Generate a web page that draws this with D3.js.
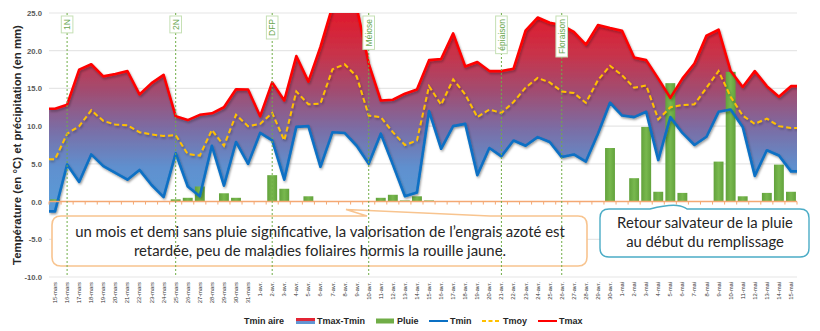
<!DOCTYPE html>
<html><head><meta charset="utf-8">
<script src="https://cdn.jsdelivr.net/npm/d3@7"></script>
<style>
body{margin:0;background:#fff;}
svg{display:block;font-family:"Liberation Sans",Arial,sans-serif;}
</style>
</head><body>
<svg id="c" width="820" height="331"></svg>
<script>
// ---------------- DATA ----------------
const dates = ["15-mars","16-mars","17-mars","18-mars","19-mars","20-mars","21-mars","22-mars","23-mars","24-mars","25-mars","26-mars","27-mars","28-mars","29-mars","30-mars","31-mars",
"1-avr.","2-avr.","3-avr.","4-avr.","5-avr.","6-avr.","7-avr.","8-avr.","9-avr.","10-avr.","11-avr.","12-avr.","13-avr.","14-avr.","15-avr.","16-avr.","17-avr.","18-avr.","19-avr.","20-avr.","21-avr.","22-avr.","23-avr.","24-avr.","25-avr.","26-avr.","27-avr.","28-avr.","29-avr.","30-avr.",
"1-mai","2-mai","3-mai","4-mai","5-mai","6-mai","7-mai","8-mai","9-mai","10-mai","11-mai","12-mai","13-mai","14-mai","15-mai"];
const tmax = [12.3,12.85,17.5,18.2,16.6,16.9,17.3,14.2,15.7,16.8,11.3,10.8,11.5,11.7,12.5,14.9,14.85,
11.3,15.8,13.4,19.3,15.9,20.5,25.9,27.3,25.8,18.3,13.4,13.5,14.3,14.85,18.75,18.9,22.3,17.9,18.5,17.3,17.3,17.6,22.65,24.4,23.7,23.4,22.5,20.8,23.4,23.0,
22.65,19.1,18.75,16.3,13.75,16.3,18.3,22.0,22.8,17.3,15.2,17.3,15.3,13.9,15.3];
const tmin = [-1.3,4.9,2.6,6.25,4.7,3.8,2.9,4.2,2.2,0.6,6.4,2.0,0.7,7.4,2.1,7.9,5.0,
9.1,8.1,2.9,9.9,10.0,4.6,9.2,9.1,7.4,5.0,9.0,4.9,0.7,1.2,12.0,7.0,10.0,10.3,3.5,7.1,6.0,8.1,7.4,8.55,7.9,5.9,6.25,5.3,9.0,13.1,
11.4,11.2,11.9,5.5,11.2,9.1,7.5,8.6,11.9,12.2,9.9,3.4,6.8,6.1,4.0];
const tmoy = [5.6,9.0,10.0,12.1,10.7,10.2,10.1,9.2,8.9,8.7,8.8,6.3,6.1,9.5,7.4,11.5,10.0,
10.3,11.75,8.1,14.6,12.9,13.0,17.55,18.2,16.6,11.4,11.2,9.2,7.5,8.1,15.3,12.85,16.2,14.2,11.2,12.2,11.75,13.2,15.1,16.4,15.8,14.6,14.4,13.1,16.1,18.0,
16.75,15.1,15.4,10.9,12.5,12.8,12.9,15.1,17.3,13.9,11.4,10.3,11.0,10.0,9.75];
const pluie = [0.3,0,0,0,0,0,0,0,0,0,0.3,0.5,2.0,0,1.1,0.5,0,
0,3.5,1.7,0,0.7,0,0,0,0,0,0.5,0.9,0.15,0.7,0.15,0,0,0,0,0,0,0,0,0,0,0,0,0,0,7.1,
0,3.1,9.9,1.3,15.7,1.15,0,0,5.3,17.2,0.7,0,1.15,4.9,1.3];
const yTicks = [25,20,15,10,5,0,-5,-10];
const stageLabels = ["1N","2N","DFP","Méiose","épiaison","Floraison"];
const stageDates = ["16-mars","25-mars","2-avr.","10-avr.","21-avr.","26-avr."];
const legendLabels = ["Tmin aire","Tmax-Tmin","Pluie","Tmin","Tmoy","Tmax"];
const noteLeft = ["un mois et demi sans pluie significative, la valorisation de l’engrais azoté est","retardée, peu de maladies foliaires hormis la rouille jaune."];
const noteRight = ["Retour salvateur de la pluie","au début du remplissage"];
const yTitle = "Température (en °C) et précipitation (en mm)";

// ---------------- LAYOUT ----------------
const L = 49, R = 797, T = 13, B = 277;
const svg = d3.select("#c");
const x = d3.scaleBand().domain(dates).range([L, R]);
const y = d3.scaleLinear().domain([-10, 25]).range([B, T]);
const bw = x.bandwidth();
const cx = d => x(d) + bw / 2;

const defs = svg.append("defs");
const grad = defs.append("linearGradient").attr("id", "areaGrad")
  .attr("gradientUnits", "userSpaceOnUse").attr("x1", 0).attr("x2", 0)
  .attr("y1", y(25)).attr("y2", y(0));
[[0, "#e01a2c"], [0.22, "#c8334a"], [0.42, "#a04d72"], [0.62, "#7a6ea6"], [0.82, "#5f90cf"], [1, "#5a9ad6"]]
  .forEach(s => grad.append("stop").attr("offset", s[0]).attr("stop-color", s[1]));
const lg = defs.append("linearGradient").attr("id", "legGrad").attr("x1", 0).attr("x2", 0).attr("y1", 0).attr("y2", 1);
[[0, "#e8202e"], [0.45, "#d92a3e"], [0.55, "#6a8fd0"], [1, "#5b9bd5"]]
  .forEach(s => lg.append("stop").attr("offset", s[0]).attr("stop-color", s[1]));
const bg = defs.append("linearGradient").attr("id", "barGrad").attr("x1", 0).attr("x2", 1).attr("y1", 0).attr("y2", 0);
[[0, "#62a23c"], [0.5, "#78b84e"], [1, "#62a23c"]]
  .forEach(s => bg.append("stop").attr("offset", s[0]).attr("stop-color", s[1]));
defs.append("clipPath").attr("id", "plotClip").append("rect")
  .attr("x", L).attr("y", T).attr("width", R - L).attr("height", B - T);
const f = defs.append("filter").attr("id", "shadow").attr("x", "-5%").attr("y", "-10%").attr("width", "110%").attr("height", "130%");
f.append("feDropShadow").attr("dx", 1).attr("dy", 1.6).attr("stdDeviation", 1.1)
  .attr("flood-color", "#000").attr("flood-opacity", 0.3);

// gridlines
svg.append("g").selectAll("line").data(yTicks.filter(v => v !== 0)).join("line")
  .attr("x1", L).attr("x2", R).attr("y1", d => y(d)).attr("y2", d => y(d))
  .attr("stroke", "#e6e6e6").attr("stroke-width", 1.2);

// y axis labels
const ya = svg.append("g").attr("transform", `translate(${L},0)`)
  .call(d3.axisLeft(y).tickValues(yTicks).tickFormat(d => d.toFixed(1)).tickSize(0).tickPadding(7));
ya.select(".domain").remove();
ya.selectAll("text").attr("font-size", 7.7).attr("font-weight", "bold").attr("fill", "#595959")
  .attr("font-family", "Liberation Sans, Arial, sans-serif");

// y title
const yt = svg.append("text").attr("transform", `translate(21,${(T + B) / 2}) rotate(-90)`)
  .attr("text-anchor", "middle").attr("font-weight", "bold").attr("font-size", 10).attr("fill", "#262626").text(yTitle);
const ytw = yt.node().getComputedTextLength();
yt.attr("font-size", 10 * 240 / ytw);

// points with edge extension
const rows = dates.map((d, i) => ({ x: cx(d), max: tmax[i], min: tmin[i], moy: tmoy[i] }));
const ext = [{ ...rows[0], x: L }, ...rows, { ...rows[rows.length - 1], x: R }];

const plot = svg.append("g").attr("clip-path", "url(#plotClip)");
plot.append("path").datum(ext)
  .attr("d", d3.area().x(d => d.x).y0(d => y(d.min)).y1(d => y(d.max)))
  .attr("fill", "url(#areaGrad)").attr("filter", "url(#shadow)");

// bars
plot.append("g").selectAll("rect").data(dates.map((d, i) => ({ d, v: pluie[i] })).filter(o => o.v > 0)).join("rect")
  .attr("x", o => cx(o.d) - bw * 0.41).attr("width", bw * 0.82)
  .attr("y", o => y(o.v)).attr("height", o => y(0) - y(o.v))
  .attr("fill", "url(#barGrad)");

// zero axis
svg.append("line").attr("x1", L).attr("x2", R).attr("y1", y(0)).attr("y2", y(0))
  .attr("stroke", "#f4a873").attr("stroke-width", 1.5);
svg.append("g").selectAll("line").data(d3.range(dates.length + 1)).join("line")
  .attr("x1", i => L + i * bw).attr("x2", i => L + i * bw).attr("y1", y(0)).attr("y2", y(0) + 3)
  .attr("stroke", "#f4a873").attr("stroke-width", 1);

// lines
const line = key => d3.line().x(d => d.x).y(d => y(d[key]));
const lines = plot.append("g").attr("filter", "url(#shadow)");
lines.append("path").datum(ext).attr("d", line("min")).attr("fill", "none")
  .attr("stroke", "#0a70c4").attr("stroke-width", 2.6).attr("stroke-linejoin", "round");
lines.append("path").datum(ext).attr("d", line("moy")).attr("fill", "none")
  .attr("stroke", "#ffc000").attr("stroke-width", 2).attr("stroke-dasharray", "5,3");
lines.append("path").datum(ext).attr("d", line("max")).attr("fill", "none")
  .attr("stroke", "#ff0000").attr("stroke-width", 2.6).attr("stroke-linejoin", "round");

// category labels
svg.append("g").selectAll("text").data(dates).join("text")
  .attr("transform", d => `translate(${cx(d) + 2},282) rotate(-90)`)
  .attr("text-anchor", "end").attr("font-size", 5.8).attr("fill", "#333").text(d => d);

// orange callout
svg.append("path").attr("d", (() => {
  const x0 = 52, y0 = 216, x1 = 587, y1 = 266, r = 9;
  return `M${x0 + r},${y0} L367,${y0} L346,209.5 L490,${y0} L${x1 - r},${y0} Q${x1},${y0} ${x1},${y0 + r}
  L${x1},${y1 - r} Q${x1},${y1} ${x1 - r},${y1} L${x0 + r},${y1} Q${x0},${y1} ${x0},${y1 - r}
  L${x0},${y0 + r} Q${x0},${y0} ${x0 + r},${y0} Z`;
})()).attr("fill", "#fff").attr("stroke", "#f8c48f").attr("stroke-width", 1.6);

// teal callout
svg.append("path").attr("d", (() => {
  const x0 = 600, y0 = 209, x1 = 809, y1 = 257, r = 9;
  return `M${x0 + r},${y0} L650,${y0} Q668,204.5 677,205.5 Q684,206.5 687,${y0} L${x1 - r},${y0} Q${x1},${y0} ${x1},${y0 + r}
  L${x1},${y1 - r} Q${x1},${y1} ${x1 - r},${y1} L${x0 + r},${y1} Q${x0},${y1} ${x0},${y1 - r}
  L${x0},${y0 + r} Q${x0},${y0} ${x0 + r},${y0} Z`;
})()).attr("fill", "#fff").attr("stroke", "#4bacc6").attr("stroke-width", 1.4);

// stage marker lines (drawn over the callouts, as in the reference)
svg.append("g").selectAll("line").data(stageDates).join("line")
  .attr("x1", d => cx(d)).attr("x2", d => cx(d)).attr("y1", T).attr("y2", B)
  .attr("stroke", "#70ad47").attr("stroke-width", 1).attr("stroke-dasharray", "2,2");

// stage labels
const sg = svg.append("g").selectAll("g").data(stageLabels).join("g")
  .attr("transform", (d, i) => `translate(${cx(stageDates[i])},16)`);
sg.each(function (d) {
  const g = d3.select(this);
  const rect = g.append("rect").attr("fill", "#fff").attr("stroke", "#c5e0b4").attr("stroke-width", 1);
  const t = g.append("text").attr("transform", "rotate(-90)").attr("text-anchor", "end")
    .attr("x", -3).attr("y", 3.2).attr("font-size", 8.5).attr("fill", "#6aa84f").text(d);
  const w = t.node().getComputedTextLength();
  rect.attr("x", -5.8).attr("y", 0).attr("width", 11.6).attr("height", w + 6);
});

function noteText(lines, cxp, baselines, target) {
  const g = svg.append("g");
  const ts = g.selectAll("text").data(lines).join("text")
    .attr("x", cxp).attr("y", (d, i) => baselines[i]).attr("text-anchor", "middle")
    .attr("font-family", "Lato, 'Open Sans', sans-serif").attr("font-size", 15).attr("fill", "#262626").text(d => d);
  const w = ts.nodes()[0].getComputedTextLength();
  ts.attr("font-size", 15 * target / w);
}
noteText(noteLeft, 320, [236.5, 256], 490);
noteText(noteRight, 705, [227.5, 247], 176);

// legend
const leg = svg.append("g").attr("font-size", 9).attr("font-weight", "bold").attr("fill", "#262626");
const ly = 321;
const legX = [244, 317, 397, 450, 503, 559];
leg.selectAll("text").data(legendLabels).join("text")
  .attr("x", (d, i) => legX[i]).attr("y", ly + 3.2).text(d => d);
leg.append("rect").attr("x", 296).attr("y", ly - 3).attr("width", 19).attr("height", 6).attr("fill", "url(#legGrad)");
leg.append("rect").attr("x", 376).attr("y", ly - 2.5).attr("width", 18).attr("height", 5).attr("fill", "#70ad47");
leg.append("line").attr("x1", 429).attr("x2", 448).attr("y1", ly).attr("y2", ly).attr("stroke", "#0a70c4").attr("stroke-width", 2);
leg.append("line").attr("x1", 482).attr("x2", 501).attr("y1", ly).attr("y2", ly).attr("stroke", "#ffc000").attr("stroke-width", 2).attr("stroke-dasharray", "4,2.5");
leg.append("line").attr("x1", 538).attr("x2", 557).attr("y1", ly).attr("y2", ly).attr("stroke", "#ff0000").attr("stroke-width", 2);
</script>
</body></html>
